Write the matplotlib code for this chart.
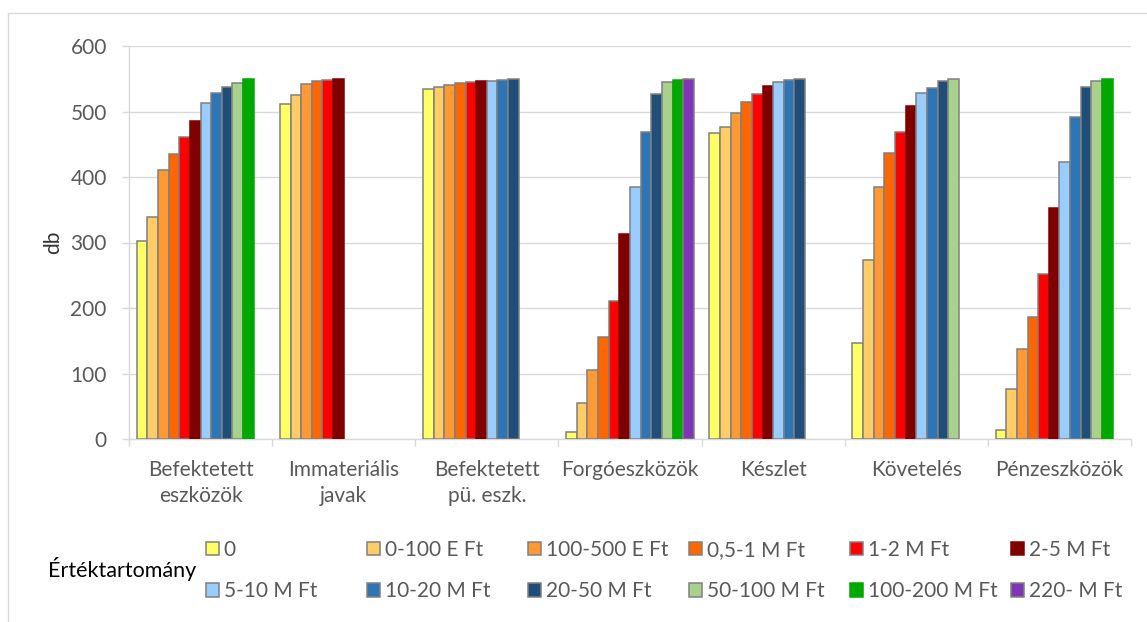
import matplotlib
matplotlib.use("Agg")
import matplotlib.pyplot as plt
from matplotlib.patches import Patch, Rectangle
import numpy as np

categories = ['Befektetett\neszközök', 'Immateriális\njavak', 'Befektetett\npü. eszk.',
              'Forgóeszközök', 'Készlet', 'Követelés', 'Pénzeszközök']
series_labels = ['0', '0-100 E Ft', '100-500 E Ft', '0,5-1 M Ft', '1-2 M Ft', '2-5 M Ft',
                 '5-10 M Ft', '10-20 M Ft', '20-50 M Ft', '50-100 M Ft', '100-200 M Ft', '220- M Ft']

# darabszám sávonként, kategóriák sorrendjében (None = nincs oszlop)
s_0 = [303, 512, 534, 11, 467, 147, 13]
s_0_100e = [339, 525, 538, 55, 477, 274, 77]
s_100_500e = [411, 542, 540, 106, 497, 384, 138]
s_05_1m = [435, 547, 543, 156, 514, 436, 187]
s_1_2m = [461, 548, 545, 211, 526, 468, 252]
s_2_5m = [485, 549, 546, 313, 539, 509, 353]
s_5_10m = [513, None, 547, 385, 545, 528, 423]
s_10_20m = [528, None, 548, 468, 548, 536, 492]
s_20_50m = [537, None, 549, 526, 549, 546, 538]
s_50_100m = [544, None, None, 545, None, 549, 547]
s_100_200m = [549, None, None, 548, None, None, 549]
s_220m = [None, None, None, 550, None, None, None]

series = [s_0, s_0_100e, s_100_500e, s_05_1m, s_1_2m, s_2_5m,
          s_5_10m, s_10_20m, s_20_50m, s_50_100m, s_100_200m, s_220m]

colors = ['#FFFF66', '#FFCC66', '#FF9933', '#FF6600', '#FF0000', '#800000',
          '#99CCFF', '#2E75B6', '#1F4E79', '#A9D18E', '#00A800', '#7F35B5']
edges = ['#808080'] * 12
edges[5] = colors[5]
edges[10] = colors[10]

plt.rcParams['font.family'] = ['Lato', 'DejaVu Sans']
fs = 15
grey = '#595959'
light = '#D9D9D9'

fig = plt.figure(figsize=(11.47, 6.22), dpi=100)
ax = fig.add_axes([129 / 1147, 1 - 439 / 622, (1131 - 129) / 1147, (439 - 46) / 622])

n = len(series)
w = 1 / (n + 1.45)
x = np.arange(len(categories))
for i, vals in enumerate(series):
    xs = [x[j] - 0.5 + 0.725 * w + i * w for j in range(len(vals)) if vals[j] is not None]
    hs = [v for v in vals if v is not None]
    ax.bar(xs, hs, width=w, align='edge', color=colors[i], edgecolor=edges[i],
           linewidth=1.1, zorder=3)

ax.set_xlim(-0.5, len(categories) - 0.5)
ax.set_ylim(0, 600)
ax.set_yticks(range(0, 601, 100))
ax.yaxis.grid(True, color=light, linewidth=1.0, zorder=0)
for s in ['top', 'right']:
    ax.spines[s].set_visible(False)
for s in ['left', 'bottom']:
    ax.spines[s].set_color(light)
    ax.spines[s].set_linewidth(1.0)

ax.set_xticks(x)
ax.set_xticklabels(categories, fontsize=fs, color=grey, linespacing=1.4)
ax.set_xticks(np.arange(-0.5, len(categories)), minor=True)
ax.tick_params(axis='x', which='major', length=0, pad=15)
ax.tick_params(axis='x', which='minor', length=5, color=light, width=1.0)
ax.tick_params(axis='y', length=5, color=light, width=1.0, labelsize=fs, labelcolor=grey, pad=11)
ax.set_ylabel('db', fontsize=fs, color='#333333', labelpad=5)

# jelmagyarázat: 6 oszlop, 2 sor
handles = [Patch(facecolor=colors[i], edgecolor=edges[i], linewidth=1.1) for i in range(n)]
for c in range(6):
    idx = [c, c + 6]
    fig.legend([handles[k] for k in idx], [series_labels[k] for k in idx],
               loc='upper left', bbox_to_anchor=((210 + 161 * c - 4) / 1147, 1 - 540 / 622),
               frameon=False, fontsize=fs, handlelength=0.6, handleheight=0.6,
               handletextpad=0.25, labelspacing=1.02, borderpad=0, borderaxespad=0,
               labelcolor=grey)
fig.text(48 / 1147, 1 - 569 / 622, 'Értéktartomány', fontsize=15.5, color='black',
         ha='left', va='center')

fig.patches.append(Rectangle((8 / 1147, -0.1), 1.2, 1.1 - 13 / 622, fill=False,
                             edgecolor=light, linewidth=1.0, transform=fig.transFigure))

fig.savefig('out.png', dpi=100, facecolor='white')
